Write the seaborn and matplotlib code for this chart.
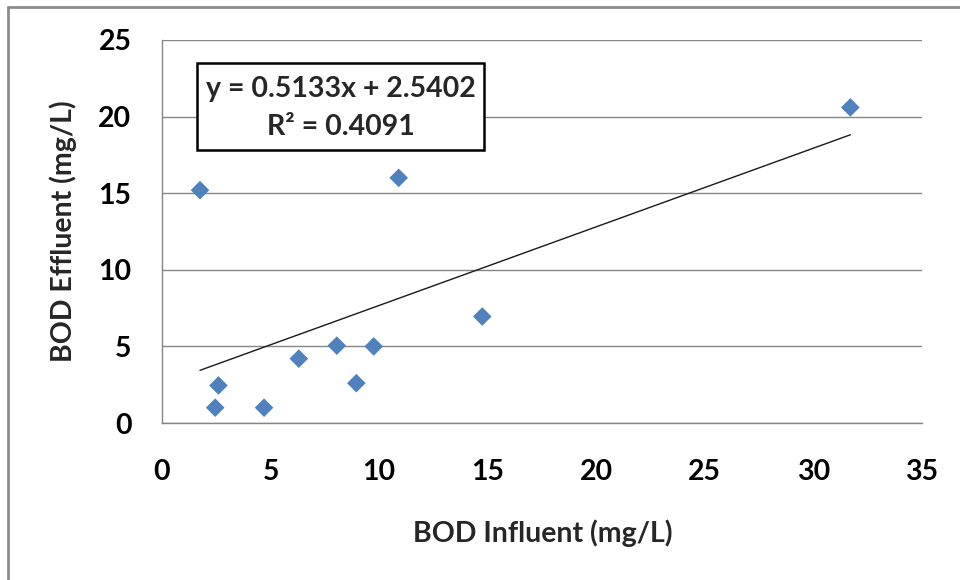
import matplotlib
matplotlib.use("Agg")
import matplotlib.pyplot as plt
from matplotlib.lines import Line2D
from matplotlib.patches import Rectangle
import seaborn as sns
import pandas as pd

# Data
bod_influent = [1.75, 2.45, 2.6, 4.7, 6.3, 8.05, 8.95, 9.75, 10.9, 14.75, 31.7]
bod_effluent = [15.2, 1.0, 2.45, 1.0, 4.2, 5.05, 2.6, 5.0, 16.0, 6.95, 20.6]
trend_slope = 0.5133
trend_intercept = 2.5402
r_squared = 0.4091
x_ticks = [0, 5, 10, 15, 20, 25, 30, 35]
y_ticks = [0, 5, 10, 15, 20, 25]
x_label = "BOD Influent (mg/L)"
y_label = "BOD Effluent (mg/L)"

sns.set_theme(style="white")
plt.rcParams["font.family"] = ["Lato", "DejaVu Sans"]

FS = 20.5
W, H = 960, 580

df = pd.DataFrame({"x": bod_influent, "y": bod_effluent})
xmin, xmax = min(bod_influent), max(bod_influent)
trend = pd.DataFrame({"x": [xmin, xmax]})
trend["y"] = trend_slope * trend["x"] + trend_intercept

fig = plt.figure(figsize=(W / 100, H / 100), dpi=100)
ax = fig.add_axes([162 / W, 1 - 423 / H, (922 - 162) / W, (423 - 40) / H])

grid_c = "#868686"
for yv in y_ticks:
    ax.axhline(yv, color=grid_c, lw=1.0, zorder=0)

sns.lineplot(data=trend, x="x", y="y", ax=ax, color="#1a1a1a", lw=1.0, zorder=2)
sns.scatterplot(data=df, x="x", y="y", ax=ax, marker="D", s=90, color="#4F81BD",
                edgecolor="none", linewidth=0, zorder=3)

ax.set_xlim(0, 35)
ax.set_ylim(0, 25)
ax.set_xticks(x_ticks)
ax.set_yticks(y_ticks)
ax.set_xticklabels([str(t) for t in x_ticks])
ax.set_yticklabels([str(t) for t in y_ticks])

for side in ["top", "right"]:
    ax.spines[side].set_visible(False)
for side in ["left", "bottom"]:
    ax.spines[side].set_color(grid_c)
    ax.spines[side].set_linewidth(1.0)

ax.tick_params(axis="both", which="major", direction="out", length=10, width=1.0,
               color=grid_c, labelsize=FS, labelcolor="black")
ax.tick_params(axis="x", pad=16)
ax.tick_params(axis="y", pad=12)
for lbl in ax.get_xticklabels() + ax.get_yticklabels():
    lbl.set_fontweight("bold")

ax.set_xlabel(x_label, fontsize=FS, fontweight="bold")
ax.set_ylabel(y_label, fontsize=FS, fontweight="bold")
ax.xaxis.set_label_coords((543 - 162) / 760, (423 - 533) / 383)
ax.xaxis.label.set_va("center")
ax.yaxis.set_label_coords((63 - 162) / 760, (423 - 231) / 383)
ax.yaxis.label.set_va("center")

# trendline label box
fig.add_artist(Rectangle((197 / W, 1 - 150 / H), (484 - 197) / W, (150 - 63) / H,
                         transform=fig.transFigure, fc="white", ec="black", lw=1.8,
                         zorder=5))
line1 = f"y = {trend_slope:.4f}x + {trend_intercept:.4f}"
line2 = f"R² = {r_squared:.4f}"
fig.text((197 + 484) / 2 / W, 1 - 89 / H, line1, ha="center", va="center",
         fontsize=FS, fontweight="bold", zorder=6)
fig.text((197 + 484) / 2 / W, 1 - 127 / H, line2, ha="center", va="center",
         fontsize=FS, fontweight="bold", zorder=6)

# outer chart border (top and left visible)
fig.add_artist(Line2D([8 / W, 1.0], [1 - 7 / H, 1 - 7 / H], color="#8c8c8c", lw=2,
                      transform=fig.transFigure))
fig.add_artist(Line2D([8 / W, 8 / W], [0.0, 1 - 7 / H], color="#8c8c8c", lw=2,
                      transform=fig.transFigure))

fig.savefig("out.png", dpi=100, facecolor="white")
